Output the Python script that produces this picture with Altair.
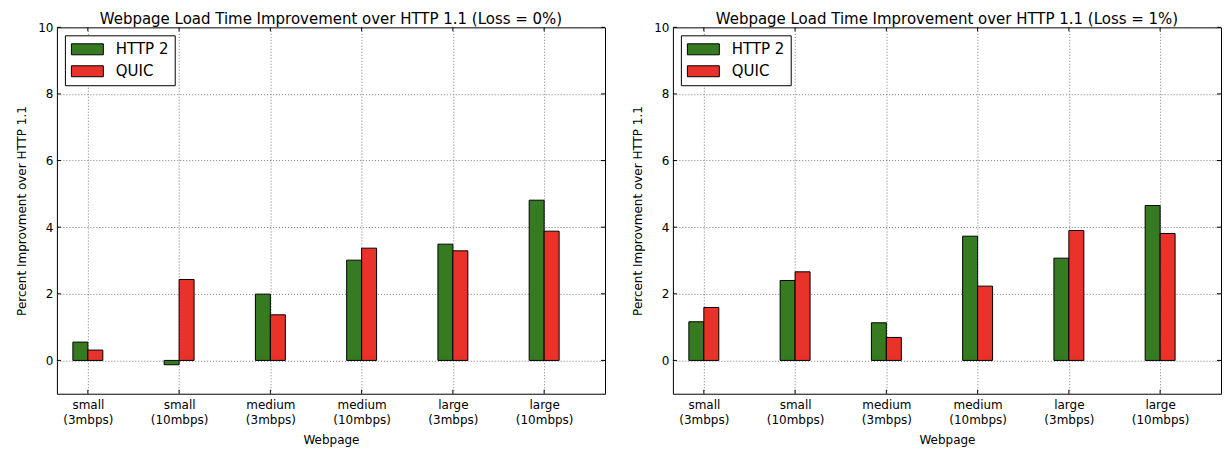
import altair as alt
import pandas as pd

# ---- data ----
label_lines = [["small", "(3mbps)"], ["small", "(10mbps)"], ["medium", "(3mbps)"],
               ["medium", "(10mbps)"], ["large", "(3mbps)"], ["large", "(10mbps)"]]
series = ["HTTP 2", "QUIC"]
colors = ["#367b21", "#e9332a"]
x_ticks = [0, 1, 2, 3, 4, 5]
y_ticks = [0, 2, 4, 6, 8, 10]

http2_loss0 = [0.55, -0.13, 1.99, 3.01, 3.49, 4.81]
quic_loss0 = [0.31, 2.43, 1.37, 3.37, 3.29, 3.88]
http2_loss1 = [1.16, 2.40, 1.13, 3.73, 3.07, 4.65]
quic_loss1 = [1.59, 2.66, 0.69, 2.23, 3.90, 3.81]

titles = ["Webpage Load Time Improvement over HTTP 1.1 (Loss = 0%)",
          "Webpage Load Time Improvement over HTTP 1.1 (Loss = 1%)"]
x_title = "Webpage"
y_title = "Percent Improvment over HTTP 1.1"

W, H = 549, 367
BAR_W = 0.164
FONT = "DejaVu Sans"

label_expr = "[" + ",".join("['%s','%s']" % (a, b) for a, b in label_lines) + "][datum.value]"

xscale = alt.Scale(domain=[-0.339, 5.667], nice=False, zero=False)
yscale = alt.Scale(domain=[-1, 10], nice=False, zero=False)

xaxis = alt.Axis(values=x_ticks, labelExpr=label_expr, labelLineHeight=15,
                 labelPadding=6, title=x_title, titleY=50, titleBaseline="alphabetic")
yaxis = alt.Axis(values=y_ticks, title=y_title, titleX=-31, titleY=H / 2,
                 titleBaseline="alphabetic", labelPadding=4)


def panel(h2, qc, title):
    df = pd.DataFrame({
        "idx": x_ticks * 2,
        "series": [series[0]] * len(h2) + [series[1]] * len(qc),
        "value": h2 + qc,
    })
    bars = alt.Chart(df).transform_calculate(
        x0="datum.idx + (datum.series == 'HTTP 2' ? -%f : 0)" % BAR_W,
        x1="datum.idx + (datum.series == 'HTTP 2' ? 0 : %f)" % BAR_W,
    ).mark_bar(stroke="black", strokeWidth=1, opacity=1).encode(
        x=alt.X("x0:Q", scale=xscale, axis=xaxis, title=x_title),
        x2="x1:Q",
        y=alt.Y("value:Q", scale=yscale, axis=yaxis, title=y_title),
        y2=alt.datum(0),
        color=alt.Color("series:N", scale=alt.Scale(domain=series, range=colors),
                        legend=alt.Legend(
                            title=None, orient="top-left", offset=8, padding=6,
                            strokeColor="black", fillColor="white", cornerRadius=0,
                            labelFont=FONT, labelFontSize=15, labelColor="black",
                            labelOffset=29, rowPadding=6,
                            symbolType="M-1,-0.733H3.267V0.733H-1Z", symbolSize=225,
                            symbolStrokeColor="black", symbolStrokeWidth=1,
                            symbolOpacity=1)),
    )
    ydf = pd.DataFrame({"t": y_ticks})
    xdf = pd.DataFrame({"t": x_ticks})
    lt = alt.Chart(ydf).mark_rule(color="black", strokeWidth=1).encode(
        y=alt.Y("t:Q", scale=yscale, axis=yaxis, title=y_title),
        x=alt.value(0), x2=alt.value(4))
    rt = alt.Chart(ydf).mark_rule(color="black", strokeWidth=1).encode(
        y=alt.Y("t:Q", scale=yscale, axis=yaxis, title=y_title),
        x=alt.value(W - 4), x2=alt.value(W))
    bt = alt.Chart(xdf).mark_rule(color="black", strokeWidth=1).encode(
        x=alt.X("t:Q", scale=xscale, axis=xaxis, title=x_title),
        y=alt.value(H - 4), y2=alt.value(H))
    tt = alt.Chart(xdf).mark_rule(color="black", strokeWidth=1).encode(
        x=alt.X("t:Q", scale=xscale, axis=xaxis, title=x_title),
        y=alt.value(0), y2=alt.value(4))
    return alt.layer(bars, lt, rt, bt, tt).properties(
        width=W, height=H,
        title=alt.TitleParams(title, fontSize=15, font=FONT, fontWeight="normal",
                              color="black", anchor="middle", baseline="alphabetic",
                              offset=-18, frame="group"),
    )


chart = alt.hconcat(
    panel(http2_loss0, quic_loss0, titles[0]),
    panel(http2_loss1, quic_loss1, titles[1]),
    spacing=25,
).resolve_legend(color="independent").properties(
    padding={"left": 7, "top": 3, "right": 0, "bottom": 0},
    background="white",
).configure_view(stroke="black", strokeWidth=1).configure_axis(
    labelFont=FONT, labelFontSize=12, labelColor="black",
    titleFont=FONT, titleFontSize=12, titleFontWeight="normal", titleColor="black",
    domain=False, ticks=False, grid=True, gridColor="#777777", gridDash=[1, 2],
    gridWidth=1,
)

chart.save("out.html", embed_options={"renderer": "svg", "actions": False})
